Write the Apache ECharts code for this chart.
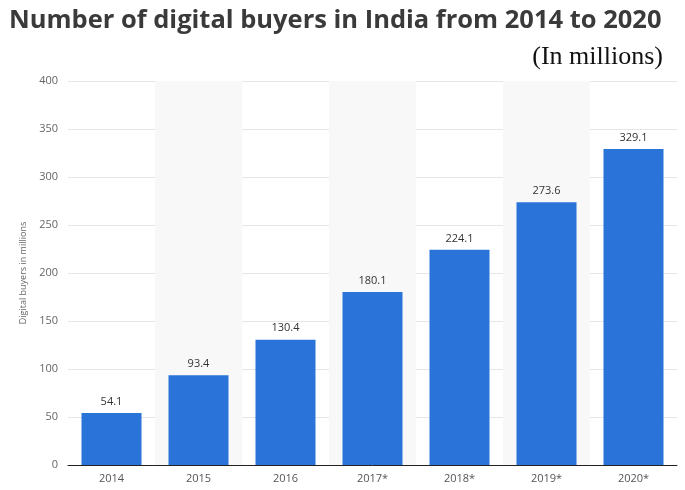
<!DOCTYPE html>
<html>
<head>
<meta charset="utf-8">
<script src="https://cdn.jsdelivr.net/npm/echarts@6/dist/echarts.min.js"></script>
<style>
  html, body { margin: 0; padding: 0; background: #fff; }
  #chart { width: 685px; height: 490px; }
</style>
</head>
<body>
<div id="chart"></div>
<script>
const years = ["2014", "2015", "2016", "2017*", "2018*", "2019*", "2020*"];
const buyers = [54.1, 93.4, 130.4, 180.1, 224.1, 273.6, 329.1];

const chart = echarts.init(document.getElementById("chart"));

chart.setOption({
  animation: false,
  title: [
    {
      text: "Number of digital buyers in India from 2014 to 2020",
      left: 4,
      top: 3,
      textStyle: {
        fontFamily: "Open Sans",
        fontWeight: "bold",
        fontSize: 25.5,
        color: "#3a3a3a",
      },
    },
    {
      text: "(In millions)",
      right: 17,
      top: 39,
      textStyle: {
        fontFamily: "Liberation Serif",
        fontWeight: "normal",
        fontSize: 26,
        color: "#111",
      },
    },
  ],
  grid: {
    left: 68,
    right: 8,
    top: 81,
    bottom: 25,
  },
  xAxis: {
    type: "category",
    data: years,
    axisLine: { lineStyle: { color: "#222", width: 1 } },
    axisTick: { show: false },
    axisLabel: {
      fontFamily: "Open Sans",
      fontSize: 11,
      color: "#555",
      margin: 8,
    },
    splitArea: {
      show: true,
      areaStyle: { color: ["rgba(255,255,255,0)", "#f8f8f8"] },
    },
  },
  yAxis: {
    type: "value",
    min: 0,
    max: 400,
    interval: 50,
    name: "Digital buyers in millions",
    nameLocation: "middle",
    nameGap: 38,
    nameTextStyle: {
      fontFamily: "Open Sans",
      fontSize: 9,
      color: "#666",
    },
    axisLine: { show: false },
    axisTick: { show: false },
    axisLabel: {
      fontFamily: "Open Sans",
      fontSize: 11,
      color: "#666",
      margin: 10,
    },
    splitLine: { lineStyle: { color: "#e6e6e6", width: 1 } },
  },
  series: [
    {
      type: "bar",
      data: buyers,
      barWidth: "69%",
      itemStyle: { color: "#2a74d9" },
      label: {
        show: true,
        position: "top",
        distance: 6,
        fontFamily: "Open Sans",
        fontSize: 11,
        color: "#333",
      },
    },
  ],
});
</script>
</body>
</html>
